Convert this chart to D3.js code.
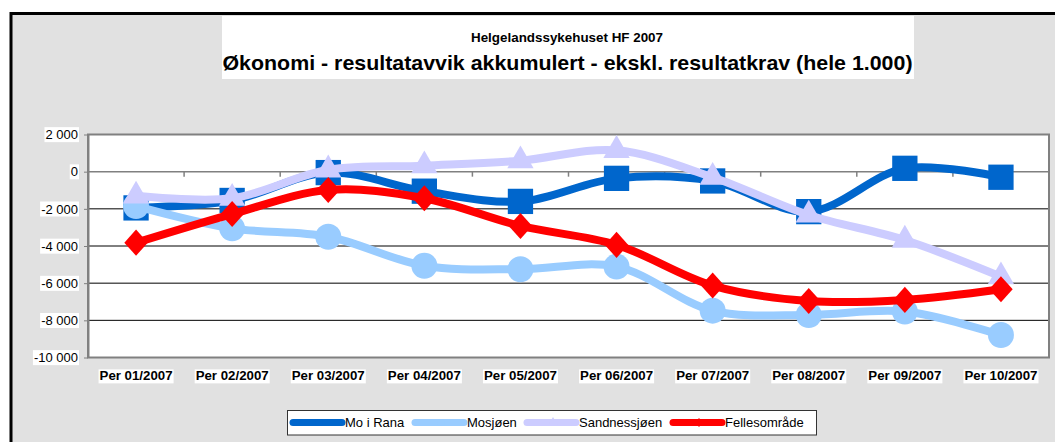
<!DOCTYPE html>
<html>
<head>
<meta charset="utf-8">
<script src="https://cdn.jsdelivr.net/npm/d3@7"></script>
<style>
  body { margin: 0; background: #fff; }
  svg { display: block; font-family: "Liberation Sans", Arial, sans-serif; }
</style>
</head>
<body>
<svg width="1055" height="442"></svg>
<script>
const periods = ["Per 01/2007", "Per 02/2007", "Per 03/2007", "Per 04/2007", "Per 05/2007",
    "Per 06/2007", "Per 07/2007", "Per 08/2007", "Per 09/2007", "Per 10/2007"];

const moIRana = [-1950, -1550, -50, -1050, -1600, -360, -500, -2150, 180, -300];
const mosjoen = [-1850, -3050, -3500, -5060, -5250, -5110, -7480, -7710, -7530, -8790];
const sandnessjoen = [-1300, -1430, 100, 320, 590, 1150, -300, -2330, -3680, -5650];
const fellesomrade = [-3820, -2280, -985, -1430, -2920, -3940, -6130, -6960, -6900, -6330];

const seriesNames = ["Mo i Rana", "Mosjøen", "Sandnessjøen", "Fellesområde"];
const seriesColors = ["#0066cc", "#99ccff", "#ccccff", "#ff0000"];

// excel-like diamond (a bit wider than d3's)
const wideDiamond = {
    draw(ctx, size) {
        const h = Math.sqrt(size / 2);
        const w = h * 0.9;
        ctx.moveTo(0, -h); ctx.lineTo(w, 0); ctx.lineTo(0, h); ctx.lineTo(-w, 0); ctx.closePath();
    }
};
const seriesSymbols = [d3.symbolSquare, d3.symbolCircle, d3.symbolTriangle, wideDiamond];
const symbolSizes = [640, 530, 300, 340];

const yTicks = [2000, 0, -2000, -4000, -6000, -8000, -10000];

const series = [moIRana, mosjoen, sandnessjoen, fellesomrade].map((vals, i) => ({
    name: seriesNames[i], color: seriesColors[i], symbol: seriesSymbols[i], size: symbolSizes[i], values: vals
}));

const svg = d3.select("svg");

// background + frame
svg.append("rect").attr("x", 11).attr("y", 13).attr("width", 1055).attr("height", 442).attr("fill", "#e1e1e1");
svg.append("path").attr("d", "M11,442V13.5H1055").attr("fill", "none").attr("stroke", "#000").attr("stroke-width", 3);

// title box
svg.append("rect").attr("x", 222).attr("y", 16).attr("width", 692).attr("height", 63).attr("fill", "#fff");
svg.append("text").attr("x", 567).attr("y", 41.5).attr("text-anchor", "middle")
    .attr("font-size", 13).attr("font-weight", "bold")
    .attr("textLength", 192).attr("lengthAdjust", "spacingAndGlyphs")
    .text("Helgelandssykehuset HF 2007");
svg.append("text").attr("x", 567.5).attr("y", 70).attr("text-anchor", "middle")
    .attr("font-size", 21).attr("font-weight", "bold")
    .attr("textLength", 690).attr("lengthAdjust", "spacingAndGlyphs")
    .text("Økonomi - resultatavvik akkumulert - ekskl. resultatkrav (hele 1.000)");

const plotLeft = 88, plotRight = 1049, plotTop = 134.5, plotBottom = 357.5;

const x = d3.scaleBand().domain(periods).range([plotLeft, plotRight]);
const y = d3.scaleLinear().domain([-10000, 2000]).range([plotBottom, plotTop]);
const cx = d => x(d) + x.bandwidth() / 2;

const locale = d3.formatLocale({decimal: ",", thousands: " ", grouping: [3], currency: ["", ""], minus: "-"});
const fmt = locale.format(",d");

// plot area
svg.append("rect").attr("x", plotLeft).attr("y", plotTop).attr("width", plotRight - plotLeft).attr("height", plotBottom - plotTop)
    .attr("fill", "#fff");

svg.append("g").selectAll("line")
    .data(yTicks.filter(v => v !== 0 && v !== 2000 && v !== -10000))
    .join("line")
    .attr("x1", plotLeft).attr("x2", plotRight)
    .attr("y1", d => y(d)).attr("y2", d => y(d))
    .attr("stroke", "#000").attr("stroke-width", 1);

// zero axis with ticks between categories
const zeroAxis = svg.append("g");
zeroAxis.append("line").attr("x1", plotLeft).attr("x2", plotRight).attr("y1", y(0)).attr("y2", y(0))
    .attr("stroke", "#808080").attr("stroke-width", 1.5);
zeroAxis.selectAll("line.tk")
    .data(periods.slice(1).map(p => x(p)).concat([plotRight]))
    .join("line").attr("class", "tk")
    .attr("x1", d => d).attr("x2", d => d)
    .attr("y1", y(0)).attr("y2", y(0) + 5)
    .attr("stroke", "#808080").attr("stroke-width", 1.5);

svg.append("rect").attr("x", plotLeft).attr("y", plotTop).attr("width", plotRight - plotLeft).attr("height", plotBottom - plotTop)
    .attr("fill", "none").attr("stroke", "#808080").attr("stroke-width", 2);

// y axis
const yAxis = svg.append("g").attr("transform", `translate(${plotLeft},0)`)
    .call(d3.axisLeft(y).tickValues(yTicks).tickFormat(fmt).tickSizeInner(4).tickSizeOuter(0).tickPadding(6));
yAxis.select(".domain").attr("stroke", "#808080").attr("stroke-width", 2);
yAxis.selectAll(".tick line").attr("stroke", "#808080");
yAxis.selectAll(".tick text").attr("font-size", 13).attr("fill", "#000")
    .attr("font-family", "Liberation Sans, Arial, sans-serif");

// x labels
const xAxis = svg.append("g").attr("transform", `translate(0,${plotBottom})`)
    .call(d3.axisBottom(x).tickSize(0).tickPadding(14));
xAxis.select(".domain").remove();
xAxis.selectAll(".tick text").attr("font-size", 12.5).attr("font-weight", "bold").attr("fill", "#000")
    .attr("font-family", "Liberation Sans, Arial, sans-serif")
    .attr("textLength", 73).attr("lengthAdjust", "spacingAndGlyphs");

// white boxes behind tick labels
svg.selectAll(".tick text").each(function() {
    const b = this.getBBox();
    d3.select(this.parentNode).insert("rect", "text")
        .attr("x", b.x - 1).attr("y", b.y).attr("width", b.width + 2).attr("height", b.height)
        .attr("fill", "#fff");
});

// series
const line = d3.line().x((v, i) => cx(periods[i])).y(v => y(v)).curve(d3.curveCatmullRom.alpha(0.5));

series.forEach(s => {
    const g = svg.append("g");
    g.append("path").attr("d", line(s.values)).attr("fill", "none")
        .attr("stroke", s.color).attr("stroke-width", 8).attr("stroke-linejoin", "round").attr("stroke-linecap", "round");
    g.selectAll("path.m").data(s.values).join("path").attr("class", "m")
        .attr("d", d3.symbol(s.symbol, s.size))
        .attr("transform", (v, i) => `translate(${cx(periods[i])},${y(v)})`)
        .attr("fill", s.color);
});

// legend
const legend = svg.append("g");
legend.append("rect").attr("x", 287.5).attr("y", 410.5).attr("width", 529).attr("height", 24.5)
    .attr("fill", "#fff").attr("stroke", "#333").attr("stroke-width", 1);
const legendX = [290, 412, 524, 670];
series.forEach((s, i) => {
    const lx = legendX[i], ly = 422.5;
    legend.append("line").attr("x1", lx + 3).attr("x2", lx + 52).attr("y1", ly).attr("y2", ly)
        .attr("stroke", s.color).attr("stroke-width", 7).attr("stroke-linecap", "round");
    legend.append("path").attr("d", d3.symbol(s.symbol, 40)).attr("transform", `translate(${lx + 29},${ly})`).attr("fill", s.color);
    legend.append("text").attr("x", lx + 55).attr("y", ly + 4.5).attr("font-size", 13).text(s.name);
});
</script>
</body>
</html>
